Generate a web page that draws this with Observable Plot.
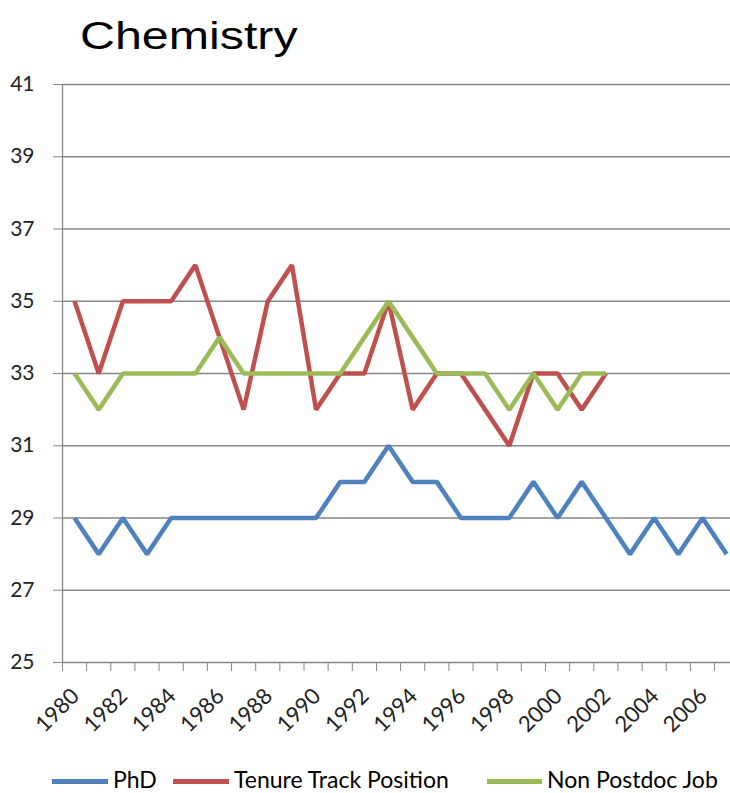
<!DOCTYPE html>
<html><head><meta charset="utf-8">
<script src="https://cdn.jsdelivr.net/npm/d3@7"></script>
<script src="https://cdn.jsdelivr.net/npm/@observablehq/plot@0.6"></script>
<style>
body{margin:0;background:#fff;}
#wrap{position:relative;width:730px;height:793px;overflow:hidden;background:#fff;}
#title{position:absolute;left:80px;top:16px;font-family:"Liberation Sans",Arial,sans-serif;font-size:39px;line-height:1;transform:scaleX(1.24);transform-origin:left top;color:#000;white-space:nowrap;}
#chart{position:absolute;left:0;top:70px;}
.sw{position:absolute;height:5px;top:779px;}
.lt{position:absolute;top:767px;font-family:Lato,sans-serif;font-size:23px;line-height:1.05;color:#000;white-space:nowrap;}
</style></head>
<body>
<div id="wrap">
  <div id="title">Chemistry</div>
  <div id="chart"></div>
  <div id="legend"></div>
</div>
<script>
const years = [1980,1981,1982,1983,1984,1985,1986,1987,1988,1989,1990,1991,1992,1993,1994,1995,1996,1997,1998,1999,2000,2001,2002,2003,2004,2005,2006,2007];
const phd = [29,28,29,28,29,29,29,29,29,29,29,30,30,31,30,30,29,29,29,30,29,30,29,28,29,28,29,28];
const tenure = [35,33,35,35,35,36,34,32,35,36,32,33,33,35,32,33,33,32,31,33,33,32,33];
const nonPostdoc = [33,32,33,33,33,33,34,33,33,33,33,33,34,35,34,33,33,33,32,33,32,33,33];
const seriesNames = ["PhD","Tenure Track Position","Non Postdoc Job"];
const seriesColors = ["#4F81BD","#C0504D","#9BBB59"];
const yTicks = [25,27,29,31,33,35,37,39,41];
const xLabelYears = [1980,1982,1984,1986,1988,1990,1992,1994,1996,1998,2000,2002,2004,2006];

const toRows = (vals, name) => vals.map((v,i)=>({year:years[i], value:v, series:name}));
const rows = [
  ...toRows(phd, seriesNames[0]),
  ...toRows(tenure, seriesNames[1]),
  ...toRows(nonPostdoc, seriesNames[2])
];
const boundaries = years.map(y=>y-0.5);
const grey = "#868686";
const yMin = yTicks[0];

const chart = Plot.plot({
  width: 730, height: 675,
  marginLeft: 62, marginRight: 0, marginTop: 14, marginBottom: 83,
  x: {type:"linear", domain:[1979.5, 2007.16]},
  y: {domain:[25,41]},
  color: {domain: seriesNames, range: seriesColors},
  style: {fontFamily:"Lato, sans-serif", fontSize:"21px", color:"#000", background:"transparent", overflow:"visible"},
  marks: [
    Plot.gridY(yTicks.filter(d=>d>yMin), {stroke:grey, strokeOpacity:1, strokeWidth:1.3}),
    Plot.ruleY([yMin], {stroke:grey, strokeWidth:1.3}),
    Plot.ruleX([boundaries[0]], {stroke:grey, strokeWidth:1.3}),
    Plot.axisY({ticks:yTicks, tickSize:9, tickPadding:19, stroke:grey, fill:"#222", label:null, tickFormat:d=>String(d)}),
    Plot.axisX({ticks:boundaries, tickSize:9, stroke:grey, tickFormat:()=>"", label:null}),
    Plot.text(xLabelYears, {x:d=>d, y:()=>yMin, text:d=>String(d), rotate:-45, textAnchor:"end", dy:30, dx:1, fontSize:22, fill:"#222"}),
    Plot.lineY(rows, {x:"year", y:"value", z:"series", stroke:"series", strokeWidth:4.5, strokeLinejoin:"miter", strokeLinecap:"butt"})
  ]
});
document.getElementById("chart").appendChild(chart);

// legend
const legend = document.getElementById("legend");
const swX = [52,173,487], swW=[56,56,55], txX=[113,234,547];
seriesNames.forEach((n,i)=>{
  const s=document.createElement("div"); s.className="sw";
  s.style.left=swX[i]+"px"; s.style.width=swW[i]+"px"; s.style.background=seriesColors[i];
  legend.appendChild(s);
  const t=document.createElement("div"); t.className="lt"; t.textContent=n;
  t.style.left=txX[i]+"px";
  legend.appendChild(t);
});
</script>
</body></html>
